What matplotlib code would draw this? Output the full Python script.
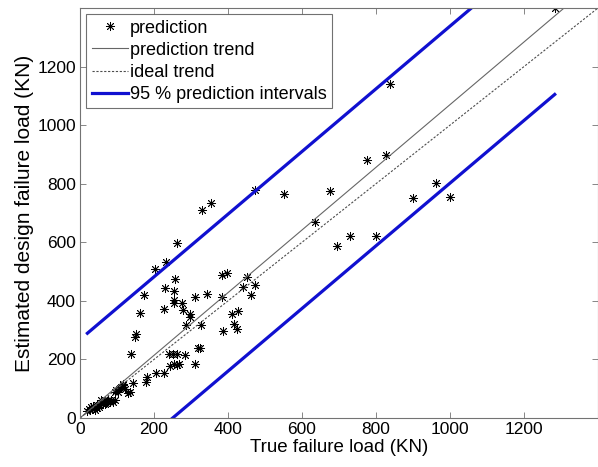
import matplotlib
matplotlib.use("Agg")
import matplotlib.pyplot as plt
import numpy as np

plt.rcParams['font.family'] = ['Liberation Sans', 'DejaVu Sans']

# true failure load (KN) vs estimated design failure load (KN)
true_load = [1283, 838, 826, 776, 472, 552, 676, 634, 962, 901, 1000, 729, 695, 801,
             355, 331, 261, 202, 232, 256, 229, 253, 173, 253, 255, 277, 227, 279,
             296, 298, 312, 344, 385, 398, 383, 452, 440, 472, 463, 427, 410, 417,
             423, 387, 327, 286, 163, 152, 148, 139, 318, 324, 240, 251, 261, 285,
             310, 243, 253, 261, 268, 228, 206, 182, 179, 143, 116, 112, 98, 94,
             134, 130, 103, 107, 121, 116,
             20, 24, 27, 30, 33, 35, 38, 41, 44, 47, 50, 52, 56, 58, 61, 64, 67,
             70, 73, 76, 80, 84, 89, 95, 45, 68]
est_load = [1400, 1142, 899, 882, 777, 766, 774, 669, 802, 751, 753, 622, 589, 620,
            734, 711, 599, 508, 531, 475, 443, 435, 420, 403, 393, 394, 372, 369,
            355, 346, 413, 423, 489, 495, 413, 483, 447, 455, 420, 366, 356, 321,
            304, 297, 316, 318, 358, 286, 278, 219, 240, 240, 219, 219, 219, 215,
            185, 179, 184, 181, 184, 153, 153, 141, 124, 119, 115, 107, 96, 90,
            90, 84, 90, 101, 98, 113,
            25, 32, 27, 38, 30, 42, 35, 28, 40, 33, 45, 38, 52, 60, 48, 57, 62,
            52, 58, 62, 55, 60, 56, 62, 45, 48]

trend_slope = 1.07
trend_intercept = 0.0
pi_halfwidth = 268.0

xticks = [0, 200, 400, 600, 800, 1000, 1200]
yticks = [0, 200, 400, 600, 800, 1000, 1200]

fig = plt.figure(figsize=(5.98, 4.67), dpi=100)
ax = fig.add_axes([80 / 598, 1 - 418 / 467, 518 / 598, 410 / 467])

x = np.array(true_load, dtype=float)
y = np.array(est_load, dtype=float)

ax.plot(x, y, linestyle='none', marker=(8, 2, 0), markersize=6.5,
        markeredgewidth=0.6, color='black', label='prediction')

xx = np.array([0, 1400])
ax.plot(xx, trend_intercept + trend_slope * xx, color='0.4', lw=0.8,
        label='prediction trend')
ax.plot(xx, xx, color='0.3', lw=0.8, linestyle=(0, (2, 1.5)),
        label='ideal trend')

# prediction interval lines over the range of the data
xp = np.array([x.min(), x.max()])
yp = trend_intercept + trend_slope * xp
ax.plot(xp, yp + pi_halfwidth, color='#1010d0', lw=2.3,
        label='95 % prediction intervals')
ax.plot(xp, yp - pi_halfwidth, color='#1010d0', lw=2.3)

ax.set_xlim(0, 1400)
ax.set_ylim(0, 1400)
ax.set_xticks(xticks)
ax.set_yticks(yticks)
ax.tick_params(direction='in', length=4, width=0.6, colors='0.45',
               labelcolor='black', labelsize=12.5, top=True, right=True, pad=3)
for s in ax.spines.values():
    s.set_color('0.45')
    s.set_linewidth(0.8)

ax.set_xlabel('True failure load (KN)', fontsize=13.5, labelpad=1)
ax.set_ylabel('Estimated design failure load (KN)', fontsize=15, labelpad=2)

leg = ax.legend(loc='upper left', fontsize=13, frameon=True, fancybox=False,
                borderaxespad=0.35, handlelength=2.0, handletextpad=0.1,
                labelspacing=0.28, borderpad=0.3, numpoints=1)
leg.get_frame().set_edgecolor('0.3')
leg.get_frame().set_linewidth(0.8)

fig.savefig('out.png', dpi=100)
